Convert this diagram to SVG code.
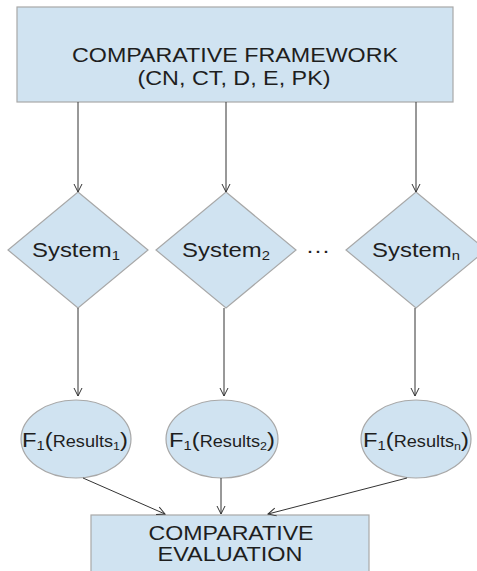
<svg xmlns="http://www.w3.org/2000/svg" width="477" height="571" viewBox="0 0 477 571">
<style>
.box{fill:#d0e3f1;stroke:#a8a8a8;stroke-width:1.2}
.t{font-family:"Liberation Sans",Arial,sans-serif;fill:#1e1e1e;text-anchor:middle}
.c{stroke:#333;stroke-width:1;fill:none;marker-end:url(#a)}
</style>
<defs>
<marker id="a" viewBox="0 0 10 10" refX="9" refY="5" markerWidth="10" markerHeight="10" markerUnits="userSpaceOnUse" orient="auto">
<path d="M1,1 L9,5 L1,9" fill="none" stroke="#333" stroke-width="1"/>
</marker>
</defs>
<rect width="477" height="571" fill="#fff"/>
<g id="framework">
<rect class="box" x="17" y="7" width="436" height="95"/>
<text class="t" x="235" y="62" font-size="20" textLength="326" lengthAdjust="spacingAndGlyphs">COMPARATIVE FRAMEWORK</text>
<text class="t" x="234" y="85" font-size="20" textLength="193" lengthAdjust="spacingAndGlyphs">(CN, CT, D, E, PK)</text>
</g>
<g id="system1">
<polygon class="box" points="78,192 148,250 78,308 8,250"/>
<text class="t" x="76" y="257" font-size="21" textLength="88" lengthAdjust="spacingAndGlyphs">System<tspan font-size="13" dy="3">1</tspan></text>
</g>
<g id="system2">
<polygon class="box" points="226,192 296,250 226,308 156,250"/>
<text class="t" x="226" y="257" font-size="21" textLength="88" lengthAdjust="spacingAndGlyphs">System<tspan font-size="13" dy="3">2</tspan></text>
</g>
<g id="dots">
<text class="t" x="318" y="257" font-size="21" textLength="24" lengthAdjust="spacingAndGlyphs">···</text>
</g>
<g id="systemn">
<polygon class="box" points="416,192 486,250 416,308 346,250"/>
<text class="t" x="416" y="257" font-size="21" textLength="88" lengthAdjust="spacingAndGlyphs">System<tspan font-size="13" dy="3">n</tspan></text>
</g>
<g id="result1">
<ellipse class="box" cx="76" cy="439" rx="55" ry="39"/>
<text class="t" x="75" y="447" font-size="21" textLength="106" lengthAdjust="spacingAndGlyphs">F<tspan font-size="13" dy="3">1</tspan><tspan dy="-3">(</tspan><tspan font-size="16">Results</tspan><tspan font-size="11" dy="3">1</tspan><tspan dy="-3">)</tspan></text>
</g>
<g id="result2">
<ellipse class="box" cx="222" cy="439" rx="56" ry="39"/>
<text class="t" x="222" y="447" font-size="21" textLength="106" lengthAdjust="spacingAndGlyphs">F<tspan font-size="13" dy="3">1</tspan><tspan dy="-3">(</tspan><tspan font-size="16">Results</tspan><tspan font-size="11" dy="3">2</tspan><tspan dy="-3">)</tspan></text>
</g>
<g id="resultn">
<ellipse class="box" cx="416" cy="439" rx="55" ry="39"/>
<text class="t" x="416" y="447" font-size="21" textLength="106" lengthAdjust="spacingAndGlyphs">F<tspan font-size="13" dy="3">1</tspan><tspan dy="-3">(</tspan><tspan font-size="16">Results</tspan><tspan font-size="11" dy="3">n</tspan><tspan dy="-3">)</tspan></text>
</g>
<g id="evaluation">
<rect class="box" x="91" y="515" width="278" height="70"/>
<text class="t" x="231" y="540" font-size="20" textLength="165" lengthAdjust="spacingAndGlyphs">COMPARATIVE</text>
<text class="t" x="230" y="561" font-size="20" textLength="145" lengthAdjust="spacingAndGlyphs">EVALUATION</text>
</g>
<g id="connectors">
<line class="c" x1="78" y1="102" x2="78" y2="192"/>
<line class="c" x1="226" y1="102" x2="226" y2="192"/>
<line class="c" x1="416" y1="102" x2="416" y2="192"/>
<line class="c" x1="78" y1="308" x2="78" y2="396"/>
<line class="c" x1="224" y1="308" x2="224" y2="396"/>
<line class="c" x1="415" y1="308" x2="415" y2="396"/>
<line class="c" x1="83" y1="478" x2="165" y2="514"/>
<line class="c" x1="221" y1="478" x2="221" y2="514"/>
<line class="c" x1="407" y1="478" x2="268" y2="514"/>
</g>
</svg>
